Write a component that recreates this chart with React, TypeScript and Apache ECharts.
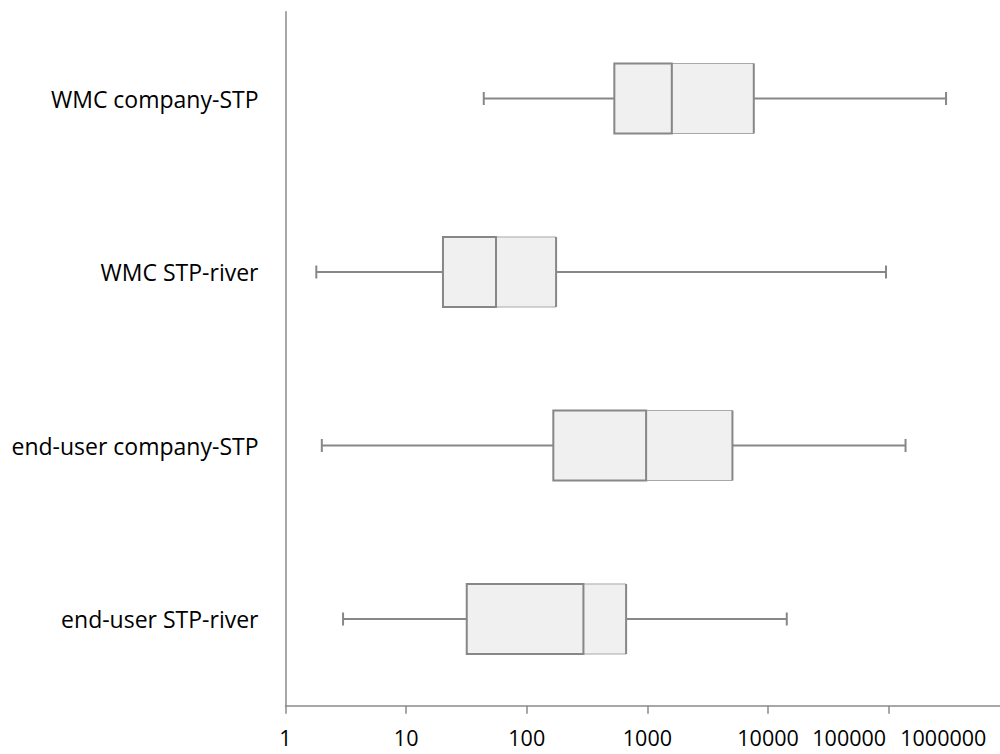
import React, { useEffect, useRef } from "react";
import * as echarts from "echarts";

// Categories, top to bottom
const categories = [
  "WMC company-STP",
  "WMC STP-river",
  "end-user company-STP",
  "end-user STP-river",
];

// Five-number summaries
const minValues = [44, 1.8, 2.0, 3.0];
const q1Values = [532, 20.2, 166, 31.8];
const medianValues = [1593, 55.6, 976, 295];
const q3Values = [7620, 175, 5070, 666];
const maxValues = [299000, 95000, 138000, 14300];

const xTickLabels = ["1", "10", "100", "1000", "10000", "100000", "1000000"];
const xTickValues = [1, 10, 100, 1000, 10000, 100000];

const LINE = "#878787";
const THIN = "#a8a8a8";
const FILL = "#f0f0f0";
const FONT = "'Open Sans', 'Noto Sans', sans-serif";

export default function App() {
  const ref = useRef<HTMLDivElement>(null);

  useEffect(() => {
    document.body.style.margin = "0";
    if (!ref.current) return;
    const chart = echarts.init(ref.current, undefined, { renderer: "svg" });

    const data = categories.map((_, i) => [
      i,
      minValues[i],
      q1Values[i],
      medianValues[i],
      q3Values[i],
      maxValues[i],
    ]);

    // horizontal shift (px, as right padding) for crowded last labels
    const labelPad: Record<number, number> = { 5: 79, 6: 132 };

    const rich: Record<string, any> = {};
    for (let i = 0; i < xTickLabels.length; i++) {
      rich["s" + i] = {
        fontSize: 21.5,
        fontFamily: FONT,
        color: "#000",
        padding: [0, labelPad[i] || 0, 0, 0],
      };
    }

    const renderItem = (params: any, api: any) => {
      const cat = api.value(0);
      const pMin = api.coord([api.value(1), cat]);
      const pQ1 = api.coord([api.value(2), cat]);
      const pMed = api.coord([api.value(3), cat]);
      const pQ3 = api.coord([api.value(4), cat]);
      const pMax = api.coord([api.value(5), cat]);
      const band = api.size([0, 1])[1];
      const h = band * 0.4035;
      const cy = pQ1[1];
      const top = cy - h / 2;
      const bot = cy + h / 2;
      const cap = 6.5;
      const thick = { stroke: LINE, lineWidth: 2, fill: null };
      return {
        type: "group",
        children: [
          {
            type: "rect",
            shape: { x: pQ1[0], y: top, width: pQ3[0] - pQ1[0], height: h },
            style: { fill: FILL, stroke: null },
          },
          {
            type: "line",
            shape: { x1: pMed[0], y1: top, x2: pQ3[0], y2: top },
            style: { stroke: THIN, lineWidth: 1 },
          },
          {
            type: "line",
            shape: { x1: pMed[0], y1: bot, x2: pQ3[0], y2: bot },
            style: { stroke: THIN, lineWidth: 1 },
          },
          {
            type: "line",
            shape: { x1: pMed[0], y1: top, x2: pMed[0], y2: bot },
            style: { stroke: THIN, lineWidth: 1 },
          },
          {
            type: "rect",
            shape: { x: pQ1[0], y: top, width: pMed[0] - pQ1[0], height: h },
            style: thick,
          },
          {
            type: "line",
            shape: { x1: pQ3[0], y1: top, x2: pQ3[0], y2: bot },
            style: thick,
          },
          {
            type: "line",
            shape: { x1: pMin[0], y1: cy, x2: pQ1[0], y2: cy },
            style: thick,
          },
          {
            type: "line",
            shape: { x1: pQ3[0], y1: cy, x2: pMax[0], y2: cy },
            style: thick,
          },
          {
            type: "line",
            shape: { x1: pMin[0], y1: cy - cap, x2: pMin[0], y2: cy + cap },
            style: thick,
          },
          {
            type: "line",
            shape: { x1: pMax[0], y1: cy - cap, x2: pMax[0], y2: cy + cap },
            style: thick,
          },
        ],
      };
    };

    chart.setOption({
      animation: false,
      backgroundColor: "#ffffff",
      grid: {
        left: 285.5,
        right: -9.3,
        top: 11.75,
        bottom: 48.25,
        containLabel: false,
        outerBoundsMode: "none",
      },
      xAxis: {
        type: "log",
        logBase: 10,
        min: 1,
        max: 1000000,
        splitLine: { show: false },
        axisLine: { show: true, lineStyle: { color: "#8a8a8a", width: 1.5 } },
        axisTick: {
          show: true,
          length: 8,
          customValues: xTickValues,
          lineStyle: { color: "#8a8a8a", width: 1.5 },
        },
        axisLabel: {
          showMinLabel: true,
          showMaxLabel: true,
          hideOverlap: false,
          margin: 21,
          fontSize: 21.5,
          fontFamily: FONT,
          color: "#000",
          formatter: (v: number) => {
            const i = Math.round(Math.log10(v));
            return "{s" + i + "|" + (xTickLabels[i] ?? String(v)) + "}";
          },
          rich,
        },
      },
      yAxis: {
        type: "category",
        data: categories,
        inverse: true,
        axisLine: { show: true, lineStyle: { color: "#8a8a8a", width: 1.5 } },
        axisTick: { show: false },
        splitLine: { show: false },
        axisLabel: {
          margin: 27,
          fontSize: 23,
          fontFamily: FONT,
          color: "#000",
        },
      },
      series: [
        {
          type: "custom",
          renderItem,
          encode: { x: [1, 2, 3, 4, 5], y: 0 },
          data,
          clip: false,
        },
      ],
    });

    return () => chart.dispose();
  }, []);

  return <div ref={ref} style={{ width: 1000, height: 754 }} />;
}
